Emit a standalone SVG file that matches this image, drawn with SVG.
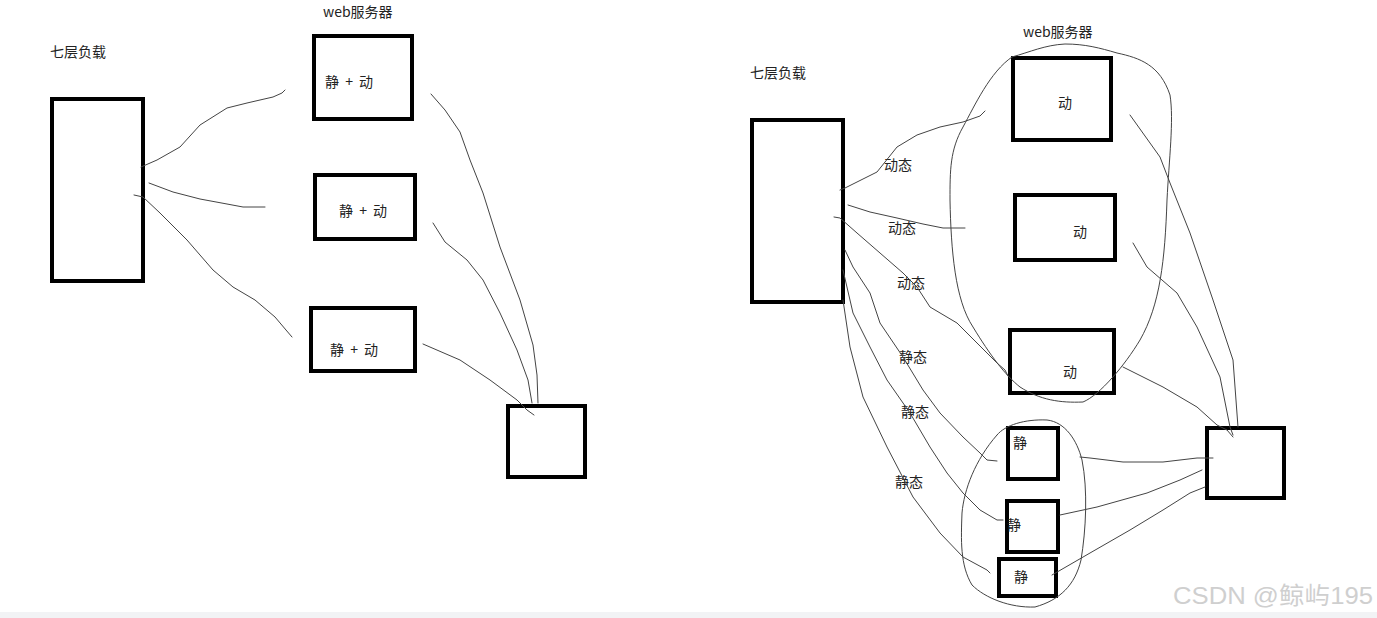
<svg xmlns="http://www.w3.org/2000/svg" width="1377" height="618" viewBox="0 0 1377 618">
<style>
.box{fill:none;stroke:#000;stroke-width:4}
.ln{fill:none;stroke:#444;stroke-width:1;stroke-linejoin:round;stroke-linecap:round}
.t{font-family:"Noto Sans CJK SC","Liberation Sans",sans-serif;font-size:14px;fill:#222}
.sp{word-spacing:3px}
.wm{font-family:"Liberation Sans","Noto Sans CJK SC",sans-serif;font-size:24px;fill:#cfcfcf}
</style>
<rect width="1377" height="618" fill="#fff"/>
<rect x="0" y="612" width="1377" height="6" fill="#f2f3f5"/>

<!-- left diagram -->
<g id="left-title"><text class="t" x="50" y="57">七层负载</text></g>
<g id="left-web-title"><text class="t" x="323" y="17">web服务器</text></g>
<g id="left-lb"><rect class="box" x="52" y="99" width="91" height="182"/></g>
<g id="left-s1"><rect class="box" x="314" y="36" width="98" height="83"/><text class="t sp" x="325" y="87">静 + 动</text></g>
<g id="left-s2"><rect class="box" x="315" y="175" width="100" height="64"/><text class="t sp" x="339" y="216">静 + 动</text></g>
<g id="left-s3"><rect class="box" x="311" y="308" width="104" height="63"/><text class="t sp" x="330" y="355">静 + 动</text></g>
<g id="left-db"><rect class="box" x="508" y="406" width="77" height="71"/></g>

<!-- right diagram -->
<g id="right-title"><text class="t" x="750" y="78">七层负载</text></g>
<g id="right-web-title"><text class="t" x="1023" y="37">web服务器</text></g>
<g id="right-lb"><rect class="box" x="752" y="120" width="91" height="182"/></g>
<g id="right-d1"><rect class="box" x="1013" y="58" width="98" height="82"/><text class="t" x="1058" y="108">动</text></g>
<g id="right-d2"><rect class="box" x="1015" y="195" width="100" height="65"/><text class="t" x="1073" y="237">动</text></g>
<g id="right-d3"><rect class="box" x="1010" y="330" width="104" height="63"/><text class="t" x="1063" y="377">动</text></g>
<g id="right-s1"><rect class="box" x="1008" y="428" width="50" height="51"/><text class="t" x="1013" y="448">静</text></g>
<g id="right-s2"><rect class="box" x="1007" y="501" width="51" height="51"/><text class="t" x="1007" y="530">静</text></g>
<g id="right-s3"><rect class="box" x="999" y="559" width="57" height="37"/><text class="t" x="1014" y="582">静</text></g>
<g id="right-db"><rect class="box" x="1207" y="428" width="77" height="70"/></g>

<g id="labels">
<text class="t" x="884" y="170">动态</text>
<text class="t" x="888" y="233">动态</text>
<text class="t" x="897" y="288">动态</text>
<text class="t" x="899" y="362">静态</text>
<text class="t" x="901" y="417">静态</text>
<text class="t" x="895" y="487">静态</text>
</g>

<g id="connectors">
<!-- left -->
<polyline class="ln" points="141,167 157,160 180,147 200,125 227,108 247,103 273,97 282,93 285,90"/>
<polyline class="ln" points="149,183 173,192 200,199 227,204 243,207 265,207"/>
<polyline class="ln" points="134,195 143,197 160,213 187,240 213,270 233,287 255,300 275,317 286,330 292,337"/>
<polyline class="ln" points="431,94 445,110 460,132 470,160 483,193 500,247 520,300 533,345 537,375 538,403"/>
<polyline class="ln" points="433,223 445,242 467,260 483,280 500,313 517,350 528,380 532,403"/>
<polyline class="ln" points="423,344 460,360 490,380 517,400 527,410 534,415"/>
<!-- right: LB to dynamic -->
<polyline class="ln" points="840,190 845,188 877,172 897,147 917,135 940,127 963,122 980,116 985,111"/>
<polyline class="ln" points="848,205 870,212 897,218 923,224 943,228 965,228"/>
<polyline class="ln" points="834,217 840,218 857,233 880,253 903,273 917,287 930,307 957,323 977,343 997,363 1005,370 1008,376"/>
<!-- right: LB to static -->
<polyline class="ln" points="845,250 853,267 870,293 880,323 903,357 923,390 940,413 963,437 980,453 987,460 997,461"/>
<polyline class="ln" points="843,270 853,313 870,347 887,380 910,413 930,447 947,473 963,493 980,510 997,520 1003,520"/>
<polyline class="ln" points="843,300 850,347 863,397 887,447 913,497 940,533 963,557 987,570 990,573"/>
<!-- groups -->
<path class="ln" d="M1012,57 C990,72 975,105 963,127 C950,150 950,170 950,200 C951,250 955,300 973,327 C990,355 1005,375 1020,387 C1040,400 1060,403 1083,402 C1100,395 1125,365 1140,340 C1160,305 1165,260 1167,200 C1169,160 1174,120 1170,95 C1160,65 1140,58 1117,53 C1100,48 1085,44 1065,44 C1045,45 1030,52 1012,57"/>
<path class="ln" d="M997,435 C1005,425 1025,419 1047,420 C1065,422 1077,440 1082,460 C1088,490 1086,530 1081,560 C1075,585 1060,600 1035,607 C1010,608 985,598 972,585 C960,565 961,540 962,513 C964,490 975,460 997,435"/>
<!-- right: to db -->
<polyline class="ln" points="1130,115 1160,157 1170,183 1190,233 1213,300 1233,360 1238,427"/>
<polyline class="ln" points="1133,243 1147,267 1177,293 1197,327 1220,377 1230,427 1233,435"/>
<polyline class="ln" points="1123,367 1163,387 1197,407 1217,425 1227,430 1233,437"/>
<polyline class="ln" points="1080,457 1090,458 1123,462 1163,462 1197,458 1213,458"/>
<polyline class="ln" points="1060,515 1097,507 1147,493 1180,480 1202,470"/>
<polyline class="ln" points="1052,575 1090,553 1130,530 1163,510 1190,493 1205,487"/>
</g>

<text class="wm" x="1173" y="604" textLength="200" lengthAdjust="spacingAndGlyphs">CSDN @鲸屿195</text>
</svg>
